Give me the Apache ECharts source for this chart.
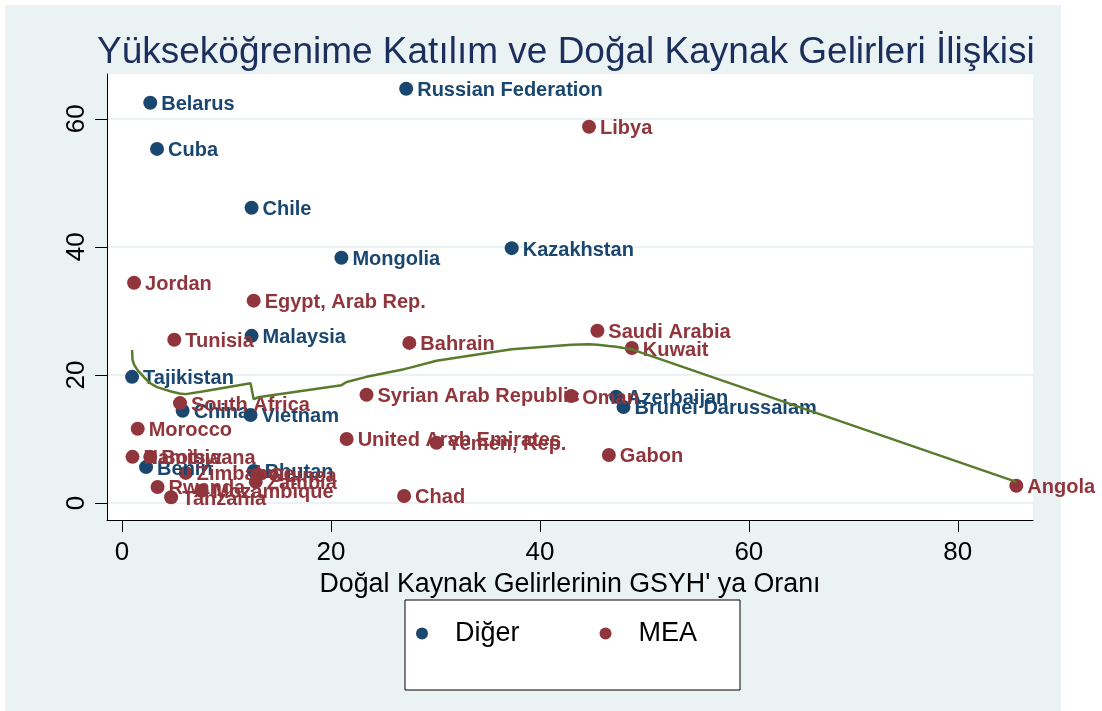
<!DOCTYPE html>
<html>
<head>
<meta charset="utf-8">
<script src="https://cdn.jsdelivr.net/npm/echarts@6/dist/echarts.min.js"></script>
<style>
  html, body { margin: 0; padding: 0; background: #fff; }
  #chart { width: 1102px; height: 711px; }
</style>
</head>
<body>
<div id="chart"></div>
<script>
// Diğer (blue) countries
const digerNames = ['Russian Federation', 'Belarus', 'Cuba', 'Chile', 'Mongolia', 'Kazakhstan', 'Malaysia',
  'Tajikistan', 'China', 'Vietnam', 'Azerbaijan', 'Brunei Darussalam', 'Benin', 'Bhutan']
const digerX = [27.2, 2.7, 3.35, 12.4, 21.0, 37.3, 12.4, 0.96, 5.8, 12.3, 47.3, 48.0, 2.3, 12.6]
const digerY = [64.7, 62.5, 55.3, 46.1, 38.3, 39.8, 26.1, 19.7, 14.4, 13.75, 16.6, 15.0, 5.6, 5.0]

// MEA (red) countries
const meaNames = ['Libya', 'Jordan', 'Egypt, Arab Rep.', 'Tunisia', 'Bahrain', 'Saudi Arabia', 'Kuwait',
  'Syrian Arab Republic', 'Oman', 'South Africa', 'United Arab Emirates', 'Yemen, Rep.', 'Gabon', 'Morocco',
  'Chad', 'Angola', 'Namibia', 'Botswana', 'Zimbabwe', 'Rwanda', 'Tanzania', 'Guinea', 'Zambia', 'Mozambique']
const meaX = [44.7, 1.15, 12.6, 5.0, 27.5, 45.5, 48.8, 23.4, 43.0, 5.55, 21.5, 30.1, 46.6, 1.5,
  27.0, 85.6, 1.0, 2.7, 6.1, 3.4, 4.7, 13.0, 12.8, 7.6]
const meaY = [58.75, 34.4, 31.6, 25.5, 25.0, 26.9, 24.2, 16.9, 16.7, 15.6, 10.0, 9.4, 7.5, 11.6,
  1.1, 2.7, 7.2, 7.2, 4.7, 2.5, 0.9, 4.4, 3.3, 1.9]

// lowess fit line
const lowX = [0.96, 1.0, 1.15, 1.5, 2.3, 2.7, 3.35, 4.7, 5.5, 6.1, 7.7, 12.3, 12.4, 12.6, 13.0,
  21.0, 21.5, 23.4, 27.0, 27.5, 30.1, 37.3, 43.0, 44.7, 45.5, 46.6, 47.3, 48.0, 48.8, 85.6]
const lowY = [23.9, 22.4, 21.6, 20.7, 19.3, 18.7, 18.1, 17.4, 17.1, 17.0, 17.4, 18.7, 18.9, 16.2, 16.5,
  18.4, 18.9, 19.7, 20.9, 21.1, 22.2, 24.0, 24.7, 24.8, 24.7, 24.5, 24.4, 24.2, 24.0, 3.3]

const xTicks = [0, 20, 40, 60, 80]
const yTicks = [0, 20, 40, 60]

const blue = '#1a476f'
const red = '#90353b'
const font = 'Liberation Sans, Arial, sans-serif'

function pts (names, xs, ys) {
  return names.map((n, i) => ({ name: n, value: [xs[i], ys[i]] }))
}

const chart = echarts.init(document.getElementById('chart'))
const labelStyle = {
  show: true,
  position: 'right',
  distance: 4,
  formatter: '{b}',
  fontFamily: font,
  fontWeight: 'bold',
  fontSize: 20,
  offset: [0, 2]
}

const option = {
  animation: false,
  backgroundColor: '#fff',
  graphic: [
    { type: 'rect', z: -10, shape: { x: 5, y: 5, width: 1056, height: 706 }, style: { fill: '#eaf2f3' } },
    { type: 'rect', z: -5, shape: { x: 405, y: 600, width: 335, height: 90 },
      style: { fill: '#fff', stroke: '#000', lineWidth: 1 } }
  ],
  title: {
    text: 'Yükseköğrenime Katılım ve Doğal Kaynak Gelirleri İlişkisi',
    left: 92,
    top: 29,
    textStyle: { color: '#1c2e5c', fontSize: 37, fontWeight: 'normal', fontFamily: font }
  },
  legend: {
    left: 416,
    top: 620,
    padding: 0,
    itemWidth: 12,
    itemHeight: 12,
    itemGap: 80,
    icon: 'circle',
    data: ['Diğer', 'MEA'],
    textStyle: { fontSize: 27, color: '#000', padding: [0, 0, 0, 22], fontFamily: font }
  },
  grid: {
    left: 107,
    right: 69,
    top: 74,
    bottom: 191,
    show: true,
    backgroundColor: '#fff',
    borderWidth: 0
  },
  xAxis: {
    type: 'value',
    min: -1.44,
    max: 87.2,
    name: "Doğal Kaynak Gelirlerinin GSYH' ya Oranı",
    nameLocation: 'middle',
    nameGap: 43,
    nameTextStyle: { fontSize: 26.8, color: '#000', fontFamily: font },
    axisLine: { onZero: false, lineStyle: { color: '#000', width: 1 } },
    axisTick: { length: 12, customValues: xTicks, lineStyle: { color: '#000' } },
    axisLabel: { customValues: xTicks, margin: 20, fontSize: 26, color: '#000', fontFamily: font },
    splitLine: { show: false }
  },
  yAxis: {
    type: 'value',
    min: -2.66,
    max: 67.0,
    axisLine: { show: true, onZero: false, lineStyle: { color: '#000', width: 1 } },
    axisTick: { show: true, length: 12, customValues: yTicks, lineStyle: { color: '#000' } },
    axisLabel: { customValues: yTicks, rotate: 90, margin: 17, fontSize: 26, color: '#000', fontFamily: font },
    splitLine: { show: true, lineStyle: { color: '#eaf2f3', width: 2 } }
  },
  series: [
    {
      name: 'Diğer',
      type: 'scatter',
      symbol: 'circle',
      symbolSize: 14,
      itemStyle: { color: blue, opacity: 1 },
      label: Object.assign({ color: blue }, labelStyle),
      data: pts(digerNames, digerX, digerY),
      z: 2
    },
    {
      name: 'MEA',
      type: 'scatter',
      symbol: 'circle',
      symbolSize: 14,
      itemStyle: { color: red, opacity: 1 },
      label: Object.assign({ color: red }, labelStyle),
      data: pts(meaNames, meaX, meaY),
      z: 2
    },
    {
      name: 'lowess',
      type: 'line',
      showSymbol: false,
      symbol: 'none',
      lineStyle: { color: '#5a7b2d', width: 2.5 },
      data: lowX.map((x, i) => [x, lowY[i]]),
      z: 3,
      silent: true
    }
  ]
}
chart.setOption(option)
</script>
</body>
</html>
